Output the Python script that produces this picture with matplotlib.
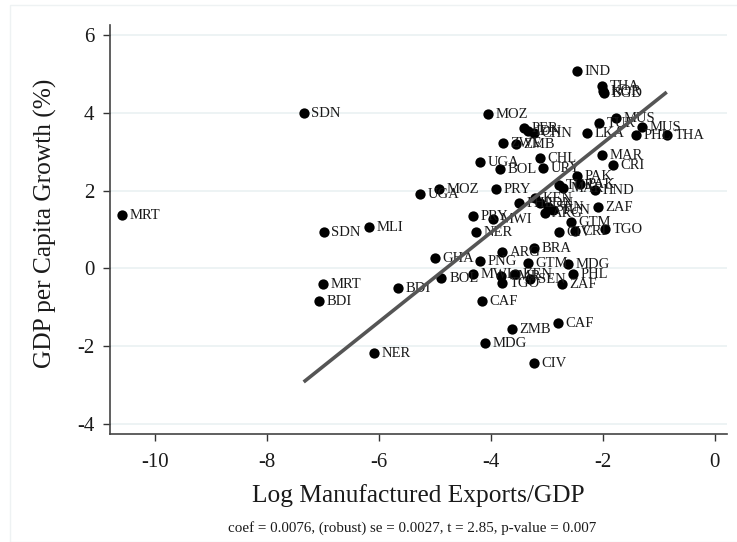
import matplotlib
matplotlib.use("Agg")
import matplotlib.pyplot as plt
from matplotlib.patches import Rectangle

labels = ["IND", "THA", "KOR", "BGD", "MOZ", "MUS", "TUR", "MUS", "PER", "IDN",
          "CHN", "LKA", "PHL", "THA", "ZWE", "ZMB", "CHL", "MAR", "UGA", "BOL",
          "URY", "CRI", "PAK", "MOZ", "UGA", "PRY", "TUR", "MAR", "PAK", "HND",
          "KEN", "PHL", "IDN", "SEN", "ARG", "TUN", "ZAF", "PRY", "MWI", "GTM",
          "NER", "CIV", "CRI", "TGO", "ARG", "BRA", "GHA", "PNG", "GTM", "MDG",
          "MWI", "BOL", "CMR", "KEN", "TGO", "SEN", "PHL", "ZAF", "CAF", "ZMB",
          "CAF", "MDG", "CIV", "SDN", "MRT", "SDN", "MLI", "MRT", "BDI", "BDI",
          "NER"]
log_exports = [-2.46, -2.02, -2.00, -1.98, -4.05, -1.77, -2.07, -1.30, -3.41, -3.34,
               -3.23, -2.29, -1.41, -0.86, -3.79, -3.55, -3.13, -2.02, -4.20, -3.84,
               -3.07, -1.82, -2.46, -4.93, -5.27, -3.91, -2.79, -2.71, -2.41, -2.14,
               -3.21, -3.50, -3.13, -2.98, -3.04, -2.89, -2.09, -4.32, -3.96, -2.57,
               -4.27, -2.79, -2.50, -1.96, -3.80, -3.23, -5.00, -4.20, -3.34, -2.63,
               -4.32, -4.88, -3.82, -3.57, -3.80, -3.30, -2.54, -2.73, -4.16, -3.63,
               -2.80, -4.11, -3.23, -7.34, -10.59, -6.98, -6.18, -7.00, -7.07, -5.66,
               -6.09]
gdp_growth = [5.08, 4.70, 4.57, 4.52, 3.98, 3.87, 3.74, 3.64, 3.62, 3.54,
              3.49, 3.49, 3.43, 3.43, 3.23, 3.20, 2.84, 2.92, 2.74, 2.56,
              2.59, 2.66, 2.38, 2.04, 1.92, 2.04, 2.15, 2.07, 2.17, 2.02,
              1.81, 1.68, 1.68, 1.58, 1.43, 1.50, 1.58, 1.35, 1.27, 1.20,
              0.93, 0.93, 0.97, 1.02, 0.42, 0.52, 0.27, 0.19, 0.14, 0.11,
              -0.15, -0.25, -0.20, -0.14, -0.38, -0.28, -0.14, -0.40, -0.84, -1.57,
              -1.41, -1.93, -2.44, 4.01, 1.37, 0.94, 1.06, -0.41, -0.84, -0.51,
              -2.18]

fit_x = [-7.34, -0.86]
fit_y = [-2.93, 4.54]

xticks = [-10, -8, -6, -4, -2, 0]
yticks = [-4, -2, 0, 2, 4, 6]

plt.rcParams['font.family'] = ['Liberation Serif', 'DejaVu Serif']

fig = plt.figure(figsize=(7.37, 5.42), dpi=100)
fig.patches.append(Rectangle((10 / 737, 0.0), 1.0, 1 - 5 / 542, transform=fig.transFigure,
                             fill=False, edgecolor='#eef2f3', linewidth=1.0))
ax = fig.add_axes([0.149, 0.1993, 0.837, 0.7546])

ax.set_xlim(-10.8, 0.21)
ax.set_ylim(-4.27, 6.27)

for yt in yticks:
    ax.axhline(yt, color='#eaf1f2', linewidth=1.2, zorder=0)

ax.scatter(log_exports, gdp_growth, s=55, color='black', zorder=3, linewidths=0)
for lab, xv, yv in zip(labels, log_exports, gdp_growth):
    ax.annotate(lab, (xv, yv), xytext=(5.5, -0.5), textcoords='offset points',
                ha='left', va='center', fontsize=10.5, color='#1a1a1a', zorder=4)

ax.plot(fit_x, fit_y, color='#555555', linewidth=2.6, solid_capstyle='butt', zorder=5)

ax.set_xticks(xticks)
ax.set_yticks(yticks)
ax.set_xticklabels([str(v) for v in xticks])
ax.set_yticklabels([str(v) for v in yticks])
ax.tick_params(axis='both', direction='out', length=5, width=1, color='#333333',
               labelsize=15, labelcolor='#1a1a1a')
ax.tick_params(axis='x', pad=9)
ax.tick_params(axis='y', pad=6)

for side in ['top', 'right']:
    ax.spines[side].set_visible(False)
for side in ['left', 'bottom']:
    ax.spines[side].set_color('#444444')
    ax.spines[side].set_linewidth(1.2)

ax.set_xlabel('Log Manufactured Exports/GDP', fontsize=18.3, labelpad=8.5, color='#1a1a1a')
ax.set_ylabel('GDP per Capita Growth (%)', fontsize=18.3, color='#1a1a1a')
ax.yaxis.set_label_coords(-0.085, 0.516)

fig.text(0.559, 0.0258, 'coef = 0.0076, (robust) se = 0.0027, t = 2.85, p-value = 0.007',
         ha='center', va='center', fontsize=10.8, color='#1a1a1a')

fig.savefig('out.png', dpi=100)
